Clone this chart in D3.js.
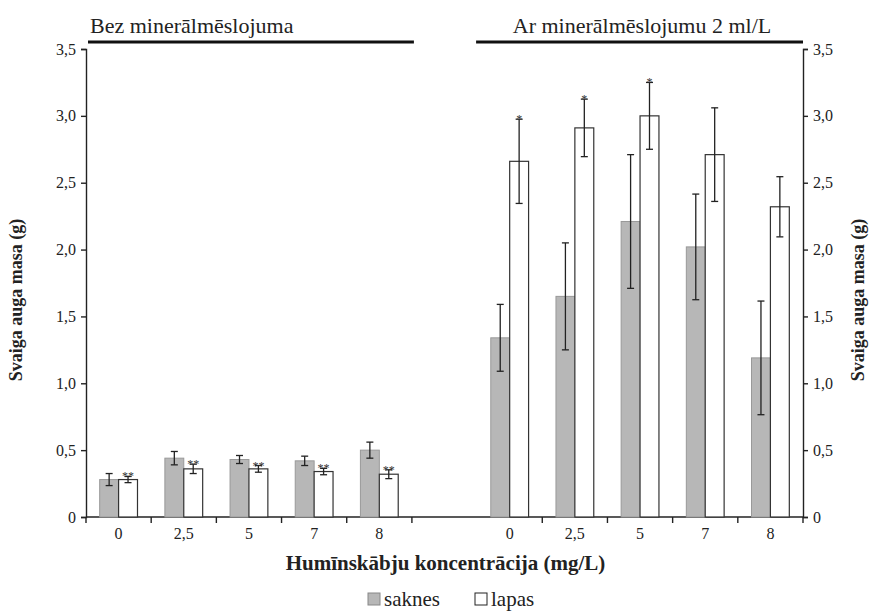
<!DOCTYPE html>
<html>
<head>
<meta charset="utf-8">
<script src="https://cdn.jsdelivr.net/npm/d3@7"></script>
</head>
<body style="margin:0;background:#fff">
<div id="figure"></div>
<script>
// Humic acid concentrations (mg/L), same for both fertiliser groups
const concentrations = ["0", "2,5", "5", "7", "8"];
const groupTitles = ["Bez minerālmēslojuma", "Ar minerālmēslojumu 2 ml/L"];
const seriesNames = ["saknes", "lapas"];

// Fresh mass (g): without mineral fertiliser
const noFertRoots   = [0.28, 0.44, 0.43, 0.42, 0.50];
const noFertRootsSd = [0.045, 0.05, 0.03, 0.035, 0.06];
const noFertLeaves  = [0.28, 0.36, 0.36, 0.34, 0.32];
const noFertLeavesSd= [0.023, 0.035, 0.025, 0.024, 0.033];
const noFertMarks   = ["**", "**", "**", "**", "**"];

// Fresh mass (g): with mineral fertiliser 2 ml/L
const fertRoots   = [1.34, 1.65, 2.21, 2.02, 1.19];
const fertRootsSd = [0.25, 0.40, 0.50, 0.395, 0.425];
const fertLeaves  = [2.66, 2.91, 3.00, 2.71, 2.32];
const fertLeavesSd= [0.315, 0.215, 0.25, 0.35, 0.225];
const fertMarks   = ["*", "*", "*", "", ""];

const yTicks = [0, 0.5, 1.0, 1.5, 2.0, 2.5, 3.0, 3.5];
const xTitle = "Humīnskābju koncentrācija (mg/L)";
const yTitle = "Svaiga auga masa (g)";

const colors = { saknes: "#b7b7b7", lapas: "#ffffff" };
const FONT = "Liberation Serif";

// Serif text helper
const serif = sel => sel.style("font-family", FONT, "important");

// Slots: five concentrations, an empty spacer, five concentrations
const slots = [
  ...concentrations.map((c, i) => "A" + i),
  "gap",
  ...concentrations.map((c, i) => "B" + i)
];

const rows = [];
concentrations.forEach((c, i) => {
  rows.push({ slot: "A" + i, label: c, roots: noFertRoots[i], rootsSd: noFertRootsSd[i],
              leaves: noFertLeaves[i], leavesSd: noFertLeavesSd[i], mark: noFertMarks[i] });
});
concentrations.forEach((c, i) => {
  rows.push({ slot: "B" + i, label: c, roots: fertRoots[i], rootsSd: fertRootsSd[i],
              leaves: fertLeaves[i], leavesSd: fertLeavesSd[i], mark: fertMarks[i] });
});

const svg = d3.select("#figure").append("svg")
  .attr("width", 874).attr("height", 615).style("display", "block");
const M = { left: 86, right: 803, top: 49, bottom: 517 };

const x = d3.scaleBand().domain(slots).range([M.left, M.right]).paddingInner(0).paddingOuter(0);
const inner = d3.scaleBand().domain(seriesNames).range([x.bandwidth() * 0.21, x.bandwidth() * 0.79]);
const y = d3.scaleLinear().domain([0, 3.5]).range([M.bottom, M.top]);

const fmt = v => v === 0 ? "0" : d3.format(".1f")(v).replace(".", ",");

// Y axes (left and right)
const yLeft = svg.append("g").attr("transform", `translate(${M.left},0)`)
  .call(d3.axisLeft(y).tickValues(yTicks).tickFormat(fmt).tickSizeOuter(0).tickSize(5).tickPadding(5));
const yRight = svg.append("g").attr("transform", `translate(${M.right},0)`)
  .call(d3.axisRight(y).tickValues(yTicks).tickFormat(fmt).tickSizeOuter(0).tickSize(5).tickPadding(5));
[yLeft, yRight].forEach(g => {
  g.attr("font-family", FONT).attr("font-size", 16);
  g.selectAll("path").attr("stroke", "#222").attr("stroke-width", 1.4);
  g.selectAll("line").attr("stroke", "#222").attr("stroke-width", 1.4);
  g.selectAll("text").attr("fill", "#222").call(serif);
});

// X axis: ticks between slots (none inside the spacer), labels centered
const xAxis = svg.append("g");
xAxis.append("line").attr("x1", M.left).attr("x2", M.right).attr("y1", M.bottom).attr("y2", M.bottom)
  .attr("stroke", "#222").attr("stroke-width", 1.4);
const boundaries = slots.map(s => x(s)).concat([M.right]).filter((b, i) => i !== 6);
xAxis.selectAll("line.tick").data(boundaries).join("line")
  .attr("class", "tick")
  .attr("x1", d => d).attr("x2", d => d).attr("y1", M.bottom).attr("y2", M.bottom + 6)
  .attr("stroke", "#222").attr("stroke-width", 1.4);
xAxis.selectAll("text").data(rows).join("text")
  .attr("x", d => x(d.slot) + x.bandwidth() / 2)
  .attr("y", M.bottom + 22)
  .attr("text-anchor", "middle").attr("font-size", 16).attr("fill", "#222")
  .call(serif)
  .text(d => d.label);

// Bars
const plot = svg.append("g");
plot.selectAll("rect.roots").data(rows).join("rect")
  .attr("class", "roots")
  .attr("x", d => x(d.slot) + inner("saknes"))
  .attr("width", inner.bandwidth())
  .attr("y", d => y(d.roots))
  .attr("height", d => y(0) - y(d.roots))
  .attr("fill", colors.saknes).attr("stroke", "#999").attr("stroke-width", 1);
plot.selectAll("rect.leaves").data(rows).join("rect")
  .attr("class", "leaves")
  .attr("x", d => x(d.slot) + inner("lapas"))
  .attr("width", inner.bandwidth())
  .attr("y", d => y(d.leaves))
  .attr("height", d => y(0) - y(d.leaves))
  .attr("fill", colors.lapas).attr("stroke", "#333").attr("stroke-width", 1.2);

// Error bars
const errs = [];
rows.forEach(d => {
  errs.push({ cx: x(d.slot) + inner("saknes") + inner.bandwidth() / 2, v: d.roots, sd: d.rootsSd });
  errs.push({ cx: x(d.slot) + inner("lapas") + inner.bandwidth() / 2, v: d.leaves, sd: d.leavesSd, mark: d.mark });
});
const eg = plot.selectAll("g.err").data(errs).join("g").attr("class", "err")
  .attr("stroke", "#222").attr("stroke-width", 1.3);
eg.append("line").attr("x1", d => d.cx).attr("x2", d => d.cx)
  .attr("y1", d => y(d.v + d.sd)).attr("y2", d => y(d.v - d.sd));
eg.append("line").attr("x1", d => d.cx - 3.5).attr("x2", d => d.cx + 3.5)
  .attr("y1", d => y(d.v + d.sd)).attr("y2", d => y(d.v + d.sd));
eg.append("line").attr("x1", d => d.cx - 3.5).attr("x2", d => d.cx + 3.5)
  .attr("y1", d => y(d.v - d.sd)).attr("y2", d => y(d.v - d.sd));

// Significance marks
svg.append("g").selectAll("text.mark").data(errs.filter(d => d.mark)).join("text")
  .attr("class", "mark")
  .attr("x", d => d.cx).attr("y", d => y(d.v + d.sd) + 4)
  .attr("text-anchor", "middle").attr("font-size", 12).attr("fill", "#333")
  .call(serif)
  .text(d => d.mark);

// Group titles with rules
const groups = [
  { title: groupTitles[0], x1: x("A0") + 2, x2: x("gap") + 2, tx: x("A0") + 4, anchor: "start" },
  { title: groupTitles[1], x1: x("B0") - 1, x2: M.right, tx: x("B0") + x.bandwidth() * 2.5 + 2, anchor: "middle" }
];
groups.forEach(g => {
  svg.append("line").attr("x1", g.x1).attr("x2", g.x2).attr("y1", 42).attr("y2", 42)
    .attr("stroke", "#111").attr("stroke-width", 3);
  svg.append("text").attr("x", g.tx).attr("y", 33).attr("text-anchor", g.anchor)
    .attr("font-size", 22).attr("fill", "#222").call(serif).text(g.title);
});

// Axis titles
[22, 864].forEach(tx => {
  svg.append("text").attr("transform", `translate(${tx},${(M.top + M.bottom) / 2 + 17}) rotate(-90)`)
    .attr("text-anchor", "middle").attr("font-size", 18).attr("font-weight", "bold").attr("fill", "#222")
    .call(serif)
    .text(yTitle);
});
svg.append("text").attr("x", (M.left + M.right) / 2 + 1).attr("y", 570)
  .attr("text-anchor", "middle").attr("font-size", 21).attr("font-weight", "bold").attr("fill", "#222")
  .call(serif)
  .text(xTitle);

// Legend
const legend = svg.append("g").attr("transform", "translate(368,592)");
const legendItems = [
  { name: seriesNames[0], fill: colors.saknes, stroke: "#888", dx: 0 },
  { name: seriesNames[1], fill: colors.lapas, stroke: "#222", dx: 107 }
];
legendItems.forEach(it => {
  legend.append("rect").attr("x", it.dx).attr("y", 1).attr("width", 12).attr("height", 12)
    .attr("fill", it.fill).attr("stroke", it.stroke).attr("stroke-width", 1);
  legend.append("text").attr("x", it.dx + 16).attr("y", 14).attr("font-size", 21).attr("fill", "#222")
    .call(serif)
    .text(it.name);
});
</script>
</body>
</html>
